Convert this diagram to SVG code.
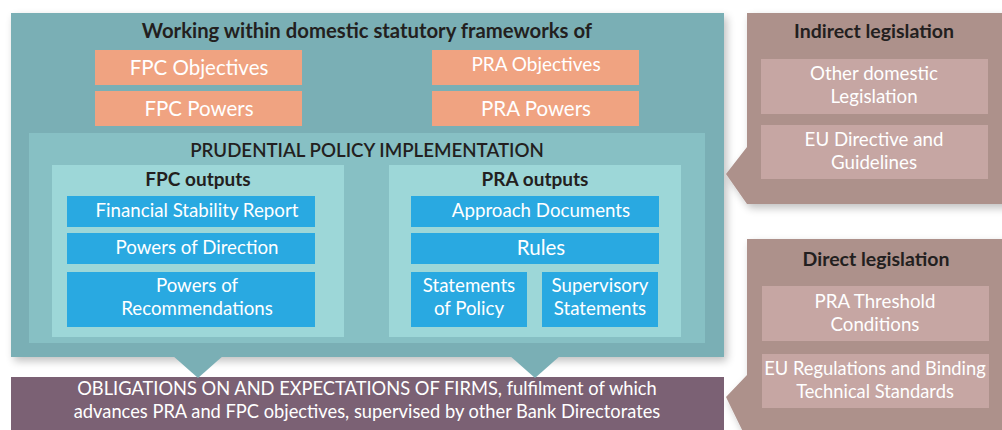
<svg xmlns="http://www.w3.org/2000/svg" width="1002" height="430" viewBox="0 0 1002 430">
<defs>
<filter id="sh" x="-5%" y="-5%" width="110%" height="115%">
<feGaussianBlur in="SourceAlpha" stdDeviation="4"/>
<feOffset dx="3" dy="4" result="b"/>
<feComponentTransfer><feFuncA type="linear" slope="0.25"/></feComponentTransfer>
<feMerge><feMergeNode/><feMergeNode in="SourceGraphic"/></feMerge>
</filter>
</defs>
<style>
text{font-family:Lato,"Open Sans","Liberation Sans",sans-serif;text-anchor:middle}
.hd{font-weight:bold;fill:#231f20;font-size:19px}
.w{fill:#ffffff}
.or{fill:#f0a381}
.bl{fill:#29a9e1}
.pk{fill:#c6a6a3}
.rp{fill:#ad918b}
.tri{fill:#7aafb5}
</style>
<rect width="1002" height="430" fill="#ffffff"/>

<g id="framework">
<rect x="11" y="13" width="713" height="344" fill="#7aafb5" filter="url(#sh)"/>
<text x="367" y="38" class="hd" style="font-size:20.3px">Working within domestic statutory frameworks of</text>
</g>

<g id="fpc-objectives">
<rect x="95" y="50" width="207" height="35" class="or"/>
<text x="199" y="74.5" class="w" font-size="20.5">FPC Objectives</text>
</g>
<g id="fpc-powers">
<rect x="95" y="91" width="207" height="35" class="or"/>
<text x="199" y="115.5" class="w" font-size="20.5">FPC Powers</text>
</g>
<g id="pra-objectives">
<rect x="432" y="50" width="207" height="35" class="or"/>
<text x="536" y="71" class="w" font-size="19">PRA Objectives</text>
</g>
<g id="pra-powers">
<rect x="432" y="91" width="207" height="35" class="or"/>
<text x="536" y="115.5" class="w" font-size="20.5">PRA Powers</text>
</g>

<g id="implementation">
<rect x="29" y="133" width="676" height="210" fill="#87c0c4"/>
<text x="367" y="157" class="hd" style="font-weight:600;font-size:18.7px">PRUDENTIAL POLICY IMPLEMENTATION</text>
</g>

<g id="fpc-outputs">
<rect x="52" y="165" width="292" height="172" fill="#9dd7d8"/>
<text x="198" y="186" class="hd">FPC outputs</text>
</g>
<g id="fsr">
<rect x="67" y="196" width="248" height="31" class="bl"/>
<text x="197" y="217" class="w" font-size="18.7">Financial Stability Report</text>
</g>
<g id="powers-direction">
<rect x="67" y="233" width="248" height="31" class="bl"/>
<text x="197" y="254" class="w" font-size="18.7">Powers of Direction</text>
</g>
<g id="powers-recommendations">
<rect x="67" y="272" width="248" height="55" class="bl"/>
<text x="197" y="292" class="w" font-size="18.7">Powers of</text>
<text x="197" y="315" class="w" font-size="18.7">Recommendations</text>
</g>

<g id="pra-outputs">
<rect x="389" y="165" width="292" height="172" fill="#9dd7d8"/>
<text x="535" y="186" class="hd">PRA outputs</text>
</g>
<g id="approach-documents">
<rect x="411" y="196" width="248" height="31" class="bl"/>
<text x="541" y="217" class="w" font-size="18.7">Approach Documents</text>
</g>
<g id="rules">
<rect x="411" y="233" width="248" height="31" class="bl"/>
<text x="541" y="255" class="w" font-size="20.5">Rules</text>
</g>
<g id="statements-policy">
<rect x="411" y="272" width="116" height="55" class="bl"/>
<text x="469" y="292" class="w" font-size="18.7">Statements</text>
<text x="469" y="315" class="w" font-size="18.7">of Policy</text>
</g>
<g id="supervisory-statements">
<rect x="542" y="272" width="116" height="55" class="bl"/>
<text x="600" y="292" class="w" font-size="18.7">Supervisory</text>
<text x="600" y="315" class="w" font-size="18.7">Statements</text>
</g>

<g id="obligations">
<rect x="11" y="377" width="713" height="60" fill="#7b6174"/>
<text x="367" y="395" class="w" font-size="18.3">OBLIGATIONS ON AND EXPECTATIONS OF FIRMS, fulfilment of which</text>
<text x="367" y="418" class="w" font-size="18.3">advances PRA and FPC objectives, supervised by other Bank Directorates</text>
</g>

<g id="connectors">
<polygon points="172,355 224,355 198,378" class="tri"/>
<polygon points="509,355 561,355 535,378" class="tri"/>
</g>

<g id="indirect-legislation">
<path d="M747,13 H1010 V204 H747 L726,174 L747,147 Z" class="rp" filter="url(#sh)"/>
<text x="874" y="38" class="hd" style="font-size:19.5px">Indirect legislation</text>
</g>
<g id="other-domestic">
<rect x="761" y="59" width="227" height="55" class="pk"/>
<text x="874" y="80" class="w" font-size="18.7">Other domestic</text>
<text x="874" y="103" class="w" font-size="18.7">Legislation</text>
</g>
<g id="eu-directive">
<rect x="761" y="125" width="227" height="54" class="pk"/>
<text x="874" y="146" class="w" font-size="18.7">EU Directive and</text>
<text x="874" y="169" class="w" font-size="18.7">Guidelines</text>
</g>

<g id="direct-legislation">
<path d="M747,239 H1010 V440 H747 L726,397 L747,375 Z" class="rp" filter="url(#sh)"/>
<text x="876" y="266" class="hd" style="font-size:19.5px">Direct legislation</text>
</g>
<g id="pra-threshold">
<rect x="762" y="286" width="227" height="55" class="pk"/>
<text x="875" y="308" class="w" font-size="18.7">PRA Threshold</text>
<text x="875" y="331" class="w" font-size="18.7">Conditions</text>
</g>
<g id="eu-regulations">
<rect x="762" y="354" width="227" height="54" class="pk"/>
<text x="875" y="375" class="w" font-size="18.3">EU Regulations and Binding</text>
<text x="875" y="398" class="w" font-size="18.3">Technical Standards</text>
</g>
</svg>
